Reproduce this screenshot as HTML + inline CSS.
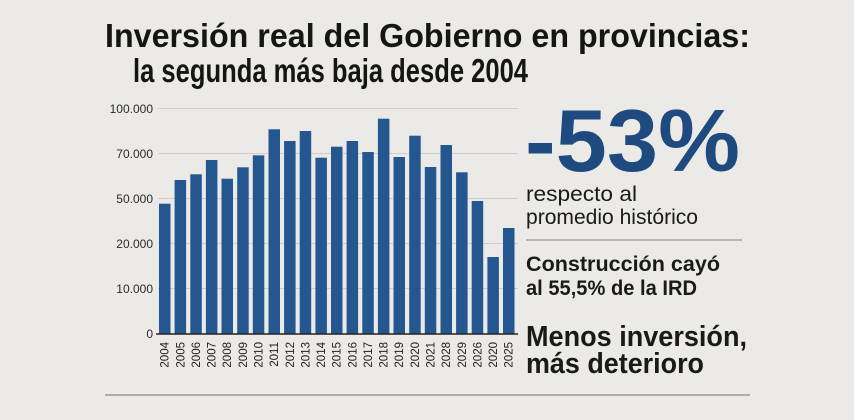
<!DOCTYPE html>
<html><head><meta charset="utf-8"><style>
html,body{margin:0;padding:0;background:#ebeae6}
svg{display:block}
text{font-family:"Liberation Sans",sans-serif}
</style></head><body>
<svg width="854" height="420" viewBox="0 0 854 420" xmlns="http://www.w3.org/2000/svg">
<rect width="854" height="420" fill="#ebeae6"/>
<text x="105" y="47" font-size="33" font-weight="bold" fill="#151515" textLength="645" lengthAdjust="spacingAndGlyphs">Inversión real del Gobierno en provincias:</text>
<text x="133" y="82" font-size="33" font-weight="bold" fill="#151515" textLength="395" lengthAdjust="spacingAndGlyphs">la segunda más baja desde 2004</text>
<g stroke="#cfcecb" stroke-width="1">
<line x1="158" y1="108.5" x2="518" y2="108.5"/>
<line x1="158" y1="153.5" x2="518" y2="153.5"/>
<line x1="158" y1="198.5" x2="518" y2="198.5"/>
<line x1="158" y1="243.5" x2="518" y2="243.5"/>
<line x1="158" y1="288.5" x2="518" y2="288.5"/>
</g>
<g font-size="12" fill="#2a2a2a" text-anchor="end">
<text x="153" y="113">100.000</text>
<text x="153" y="158">70.000</text>
<text x="153" y="203">50.000</text>
<text x="153" y="248">20.000</text>
<text x="153" y="293">10.000</text>
<text x="153" y="338">0</text>
</g>
<g fill="#24568f">
<rect x="159.0" y="203.7" width="11.5" height="130.3"/>
<rect x="174.6" y="180" width="11.5" height="154"/>
<rect x="190.3" y="174.3" width="11.5" height="159.7"/>
<rect x="205.9" y="160" width="11.5" height="174"/>
<rect x="221.5" y="178.7" width="11.5" height="155.3"/>
<rect x="237.2" y="167.3" width="11.5" height="166.7"/>
<rect x="252.8" y="155.3" width="11.5" height="178.7"/>
<rect x="268.5" y="129.3" width="11.5" height="204.7"/>
<rect x="284.1" y="141" width="11.5" height="193"/>
<rect x="299.7" y="131" width="11.5" height="203"/>
<rect x="315.4" y="157.7" width="11.5" height="176.3"/>
<rect x="331.0" y="146.7" width="11.5" height="187.3"/>
<rect x="346.6" y="141" width="11.5" height="193"/>
<rect x="362.3" y="152" width="11.5" height="182"/>
<rect x="377.9" y="118.7" width="11.5" height="215.3"/>
<rect x="393.5" y="157" width="11.5" height="177"/>
<rect x="409.2" y="135.7" width="11.5" height="198.3"/>
<rect x="424.8" y="167" width="11.5" height="167"/>
<rect x="440.5" y="145" width="11.5" height="189"/>
<rect x="456.1" y="172.3" width="11.5" height="161.7"/>
<rect x="471.7" y="201" width="11.5" height="133"/>
<rect x="487.4" y="257" width="11.5" height="77"/>
<rect x="503.0" y="228" width="11.5" height="106"/>
</g>
<line x1="156" y1="334" x2="518" y2="334" stroke="#222" stroke-width="1.5"/>
<g font-size="11.5" fill="#222" text-anchor="end">
<text transform="translate(168.7,342) rotate(-90)">2004</text>
<text transform="translate(184.3,342) rotate(-90)">2005</text>
<text transform="translate(200.0,342) rotate(-90)">2006</text>
<text transform="translate(215.6,342) rotate(-90)">2007</text>
<text transform="translate(231.2,342) rotate(-90)">2008</text>
<text transform="translate(246.9,342) rotate(-90)">2009</text>
<text transform="translate(262.5,342) rotate(-90)">2010</text>
<text transform="translate(278.2,342) rotate(-90)">2011</text>
<text transform="translate(293.8,342) rotate(-90)">2012</text>
<text transform="translate(309.4,342) rotate(-90)">2013</text>
<text transform="translate(325.1,342) rotate(-90)">2014</text>
<text transform="translate(340.7,342) rotate(-90)">2015</text>
<text transform="translate(356.3,342) rotate(-90)">2016</text>
<text transform="translate(372.0,342) rotate(-90)">2017</text>
<text transform="translate(387.6,342) rotate(-90)">2018</text>
<text transform="translate(403.2,342) rotate(-90)">2019</text>
<text transform="translate(418.9,342) rotate(-90)">2020</text>
<text transform="translate(434.5,342) rotate(-90)">2021</text>
<text transform="translate(450.2,342) rotate(-90)">2028</text>
<text transform="translate(465.8,342) rotate(-90)">2029</text>
<text transform="translate(481.4,342) rotate(-90)">2026</text>
<text transform="translate(497.1,342) rotate(-90)">2020</text>
<text transform="translate(512.7,342) rotate(-90)">2025</text>
</g>
<text x="525" y="171" font-size="88" font-weight="bold" fill="#1f4a80" textLength="215" lengthAdjust="spacingAndGlyphs">-53%</text>
<text x="526" y="201" font-size="21" fill="#1a1a1a" textLength="111" lengthAdjust="spacingAndGlyphs">respecto al</text>
<text x="526" y="224" font-size="21" fill="#1a1a1a" textLength="172" lengthAdjust="spacingAndGlyphs">promedio histórico</text>
<line x1="526" y1="240" x2="742" y2="240" stroke="#9a9995" stroke-width="1.2"/>
<text x="526" y="271" font-size="21" font-weight="bold" fill="#1a1a1a" textLength="194" lengthAdjust="spacingAndGlyphs">Construcción cayó</text>
<text x="526" y="295" font-size="21" font-weight="bold" fill="#1a1a1a" textLength="171" lengthAdjust="spacingAndGlyphs">al 55,5% de la IRD</text>
<text x="526" y="346" font-size="29" font-weight="bold" fill="#1a1a1a" textLength="221" lengthAdjust="spacingAndGlyphs">Menos inversión,</text>
<text x="526" y="373" font-size="29" font-weight="bold" fill="#1a1a1a" textLength="178" lengthAdjust="spacingAndGlyphs">más deterioro</text>
<line x1="105" y1="395" x2="750" y2="395" stroke="#8a8985" stroke-width="1.2"/>
</svg>
</body></html>
